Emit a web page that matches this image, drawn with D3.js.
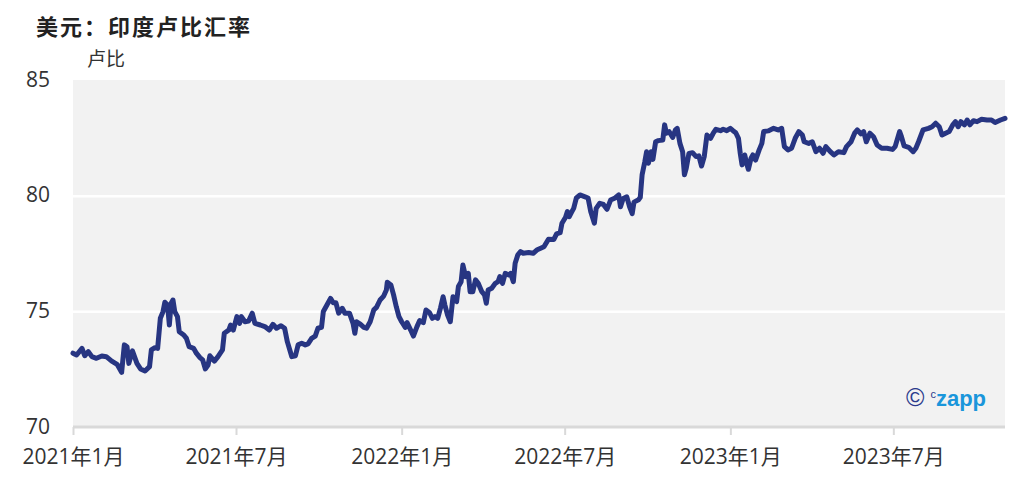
<!DOCTYPE html>
<html>
<head>
<meta charset="utf-8">
<script src="https://cdn.jsdelivr.net/npm/d3@7"></script>
<style>
  html, body { margin: 0; padding: 0; background: #ffffff; }
  svg { display: block; }
</style>
</head>
<body>
<svg id="chart" width="1022" height="497"></svg>
<script>
// ---- data ----
const title = "美元：印度卢比汇率";
const unitLabel = "卢比";
const dates = [
  "2021-01-01","2021-01-05","2021-01-11","2021-01-14","2021-01-18","2021-01-22","2021-01-27","2021-02-02","2021-02-07","2021-02-13",
  "2021-02-19","2021-02-24","2021-02-27","2021-03-02","2021-03-04","2021-03-08","2021-03-13","2021-03-17","2021-03-22","2021-03-27",
  "2021-03-29","2021-04-02","2021-04-05","2021-04-08","2021-04-11","2021-04-13","2021-04-16","2021-04-18","2021-04-20","2021-04-22",
  "2021-04-24","2021-04-27","2021-04-29","2021-05-04","2021-05-07","2021-05-10","2021-05-15","2021-05-18","2021-05-22","2021-05-25",
  "2021-05-28","2021-05-31","2021-06-02","2021-06-07","2021-06-11","2021-06-16","2021-06-18","2021-06-23","2021-06-25","2021-06-28",
  "2021-07-02","2021-07-05","2021-07-07","2021-07-11","2021-07-15","2021-07-19","2021-07-22","2021-07-28","2021-08-02","2021-08-07",
  "2021-08-11","2021-08-15","2021-08-20","2021-08-24","2021-08-27","2021-09-01","2021-09-05","2021-09-08","2021-09-12","2021-09-16",
  "2021-09-19","2021-09-23","2021-09-27","2021-09-30","2021-10-04","2021-10-06","2021-10-10","2021-10-14","2021-10-17","2021-10-20",
  "2021-10-23","2021-10-27","2021-10-30","2021-11-04","2021-11-08","2021-11-10","2021-11-12","2021-11-16","2021-11-20","2021-11-23",
  "2021-11-27","2021-12-01","2021-12-04","2021-12-08","2021-12-12","2021-12-15","2021-12-16","2021-12-20","2021-12-23","2021-12-26",
  "2021-12-29","2022-01-01","2022-01-05","2022-01-07","2022-01-11","2022-01-14","2022-01-18","2022-01-21","2022-01-25","2022-01-28",
  "2022-02-01","2022-02-04","2022-02-07","2022-02-10","2022-02-13","2022-02-16","2022-02-18","2022-02-21","2022-02-24","2022-02-27",
  "2022-03-03","2022-03-05","2022-03-08","2022-03-10","2022-03-13","2022-03-16","2022-03-18","2022-03-21","2022-03-24","2022-03-27",
  "2022-03-31","2022-04-03","2022-04-05","2022-04-07","2022-04-11","2022-04-15","2022-04-18","2022-04-20","2022-04-23","2022-04-26",
  "2022-04-30","2022-05-02","2022-05-05","2022-05-07","2022-05-10","2022-05-13","2022-05-16","2022-05-22","2022-05-27","2022-05-31",
  "2022-06-08","2022-06-13","2022-06-19","2022-06-22","2022-06-26","2022-06-28","2022-07-02","2022-07-04","2022-07-06","2022-07-09",
  "2022-07-11","2022-07-14","2022-07-18","2022-07-23","2022-07-27","2022-07-30","2022-08-03","2022-08-05","2022-08-09","2022-08-13",
  "2022-08-17","2022-08-21","2022-08-26","2022-08-30","2022-09-01","2022-09-04","2022-09-08","2022-09-11","2022-09-14","2022-09-16",
  "2022-09-21","2022-09-23","2022-09-25","2022-09-28","2022-09-30","2022-10-02","2022-10-05","2022-10-07","2022-10-10","2022-10-13",
  "2022-10-18","2022-10-20","2022-10-22","2022-10-25","2022-10-29","2022-11-01","2022-11-03","2022-11-06","2022-11-09","2022-11-11",
  "2022-11-13","2022-11-16","2022-11-20","2022-11-24","2022-11-27","2022-11-30","2022-12-03","2022-12-06","2022-12-10","2022-12-13",
  "2022-12-16","2022-12-21","2022-12-24","2022-12-28","2023-01-01","2023-01-04","2023-01-07","2023-01-10","2023-01-12","2023-01-14",
  "2023-01-17","2023-01-19","2023-01-21","2023-01-24","2023-01-26","2023-01-29","2023-02-02","2023-02-05","2023-02-07","2023-02-12",
  "2023-02-18","2023-02-23","2023-02-27","2023-03-02","2023-03-06","2023-03-10","2023-03-14","2023-03-18","2023-03-22","2023-03-24",
  "2023-03-29","2023-04-02","2023-04-06","2023-04-10","2023-04-14","2023-04-17","2023-04-22","2023-04-26","2023-05-01","2023-05-07",
  "2023-05-10","2023-05-15","2023-05-19","2023-05-22","2023-05-26","2023-05-29","2023-06-01","2023-06-05","2023-06-09","2023-06-13",
  "2023-06-18","2023-06-24","2023-06-30","2023-07-03","2023-07-08","2023-07-10","2023-07-13","2023-07-18","2023-07-23","2023-07-26",
  "2023-07-29","2023-08-03","2023-08-09","2023-08-13","2023-08-17","2023-08-21","2023-08-24","2023-08-28","2023-09-01","2023-09-05",
  "2023-09-08","2023-09-11","2023-09-14","2023-09-18","2023-09-21","2023-09-24","2023-09-28","2023-10-02","2023-10-07","2023-10-13",
  "2023-10-18","2023-10-22","2023-10-28","2023-11-02"
];
const rates = [
  73.19,73.11,73.40,73.08,73.26,73.04,72.97,73.07,73.04,72.85,
  72.71,72.36,73.55,73.47,72.75,73.29,72.75,72.51,72.42,72.61,
  73.33,73.43,73.40,74.70,74.99,75.39,75.27,74.41,75.35,75.49,
  74.99,74.77,74.12,73.98,73.83,73.47,73.40,73.19,73.00,72.90,
  72.51,72.68,73.08,72.85,73.04,73.33,74.05,74.19,74.41,74.19,
  74.77,74.48,74.77,74.55,74.58,74.92,74.48,74.41,74.34,74.19,
  74.44,74.27,74.38,74.27,73.69,73.04,73.08,73.55,73.62,73.55,
  73.59,73.83,73.93,74.27,74.31,74.99,75.27,75.56,75.37,75.37,
  74.92,75.13,74.92,74.92,74.48,74.05,74.55,74.45,74.31,74.27,
  74.55,75.06,75.17,75.49,75.66,75.92,76.26,76.14,75.71,75.20,
  74.77,74.55,74.31,74.51,74.19,73.93,74.34,74.60,74.51,75.06,
  74.94,74.70,74.77,74.70,75.13,75.63,75.27,74.84,74.55,75.63,
  75.42,76.07,76.28,77.00,76.50,76.64,75.85,75.85,76.36,76.21,
  75.85,75.71,75.35,75.92,76.00,76.21,76.28,76.50,76.21,76.64,
  76.57,76.64,76.28,77.08,77.44,77.58,77.51,77.54,77.51,77.65,
  77.79,78.12,78.11,78.35,78.40,78.81,79.07,79.31,79.09,79.31,
  79.45,79.90,80.03,79.96,79.90,79.30,78.81,79.45,79.67,79.62,
  79.41,79.81,79.90,80.03,79.52,79.88,79.95,79.53,79.22,79.72,
  79.82,79.93,80.90,81.47,81.90,81.40,81.90,81.57,82.33,82.38,
  82.41,83.06,82.70,82.77,82.52,82.84,82.91,82.26,81.90,80.90,
  81.18,81.83,81.86,81.69,81.72,81.28,81.69,82.62,82.48,82.70,
  82.87,82.81,82.87,82.81,82.91,82.81,82.72,82.48,81.83,81.33,
  81.76,81.40,81.14,81.62,81.76,81.54,81.98,82.26,82.77,82.80,
  82.91,82.84,82.91,82.12,81.98,82.05,82.48,82.77,82.62,82.33,
  82.26,82.33,81.90,82.05,81.83,82.12,81.90,81.76,81.90,81.86,
  82.12,82.33,82.70,82.84,82.67,82.77,82.33,82.70,82.55,82.19,
  82.05,82.05,82.00,82.12,82.77,82.55,82.15,82.09,81.90,82.05,
  82.33,82.84,82.91,82.98,83.13,82.98,82.62,82.70,82.77,83.06,
  83.20,82.98,83.20,83.06,83.27,83.06,83.24,83.20,83.30,83.27,
  83.27,83.16,83.27,83.34
];
const yTicks = [70, 75, 80, 85];
const xTickDates = ["2021-01-01","2021-07-01","2022-01-01","2022-07-01","2023-01-01","2023-07-01"];
const xTickLabels = ["2021年1月","2021年7月","2022年1月","2022年7月","2023年1月","2023年7月"];

// ---- chart ----
const parse = d3.utcParse("%Y-%m-%d");
const series = dates.map((d, i) => ({ date: parse(d), value: rates[i] }));

const svg = d3.select("#chart");
const plotLeft = 73, plotRight = 1005, plotTop = 80, plotBottom = 427;

const x = d3.scaleUtc()
  .domain([parse(dates[0]), parse(dates[dates.length - 1])])
  .range([plotLeft, plotRight]);
const y = d3.scaleLinear().domain([70, 85]).range([plotBottom, plotTop]);

const fontLatin = "'Open Sans', 'Noto Sans', 'Noto Sans CJK SC', sans-serif";
const fontCJK = "'Noto Sans CJK SC', 'Noto Sans', sans-serif";

// plot background
svg.append("rect")
  .attr("x", plotLeft).attr("y", plotTop)
  .attr("width", plotRight - plotLeft).attr("height", plotBottom - plotTop)
  .attr("fill", "#f2f2f2");

// gridlines
const yGrid = d3.axisLeft(y).tickValues(yTicks).tickSize(-(plotRight - plotLeft)).tickFormat("");
svg.append("g")
  .attr("transform", `translate(${plotLeft},0)`)
  .call(yGrid)
  .call(g => g.select(".domain").remove())
  .call(g => g.selectAll(".tick line").attr("stroke", "#ffffff").attr("stroke-width", 2.5))
  .call(g => g.selectAll(".tick").filter(d => d === 70 || d === 85).remove());

// y labels
svg.append("g").selectAll("text")
  .data(yTicks)
  .join("text")
  .attr("x", 50)
  .attr("y", d => y(d))
  .attr("dy", "0.32em")
  .attr("text-anchor", "end")
  .attr("font-family", fontLatin)
  .attr("font-size", 21)
  .attr("fill", "#333333")
  .text(d => d);

// x axis
const xAxis = d3.axisBottom(x)
  .tickValues(xTickDates.map(parse))
  .tickSize(8)
  .tickPadding(8)
  .tickFormat((d, i) => xTickLabels[i]);
svg.append("g")
  .attr("transform", `translate(0,${plotBottom})`)
  .call(xAxis)
  .call(g => g.select(".domain")
    .attr("d", `M${plotLeft},0H${plotRight}`)
    .attr("stroke", "#d9d9d9").attr("stroke-width", 3))
  .call(g => g.selectAll(".tick line").attr("stroke", "#d9d9d9").attr("stroke-width", 2))
  .call(g => g.selectAll(".tick text")
    .attr("font-family", fontLatin)
    .attr("font-size", 21)
    .attr("fill", "#333333")
    .attr("y", 22)
    .attr("dy", "0.71em"));

// line
const line = d3.line()
  .x(d => x(d.date))
  .y(d => y(d.value));
svg.append("path")
  .datum(series)
  .attr("fill", "none")
  .attr("stroke", "#273582")
  .attr("stroke-width", 5)
  .attr("stroke-linejoin", "round")
  .attr("stroke-linecap", "round")
  .attr("d", line);

// title and unit
svg.append("text")
  .attr("x", 36).attr("y", 35)
  .attr("font-family", fontCJK)
  .attr("font-weight", 700)
  .attr("font-size", 22)
  .attr("letter-spacing", 2)
  .attr("fill", "#222222")
  .text(title);
svg.append("text")
  .attr("x", 87).attr("y", 66)
  .attr("font-family", fontCJK)
  .attr("font-size", 19)
  .attr("fill", "#333333")
  .text(unitLabel);

// watermark
const wm = svg.append("text")
  .attr("x", 906).attr("y", 406)
  .attr("font-family", "'Liberation Sans', Arial, sans-serif");
wm.append("tspan").attr("fill", "#2b3a8c").attr("font-size", 25).text("©");
wm.append("tspan").attr("fill", "#2b3a8c").attr("font-size", 11).attr("dx", 6).attr("dy", -8).text("c");
wm.append("tspan").attr("fill", "#1a96db").attr("font-size", 22).attr("font-weight", 700).attr("dy", 8).text("zapp");
</script>
</body>
</html>
